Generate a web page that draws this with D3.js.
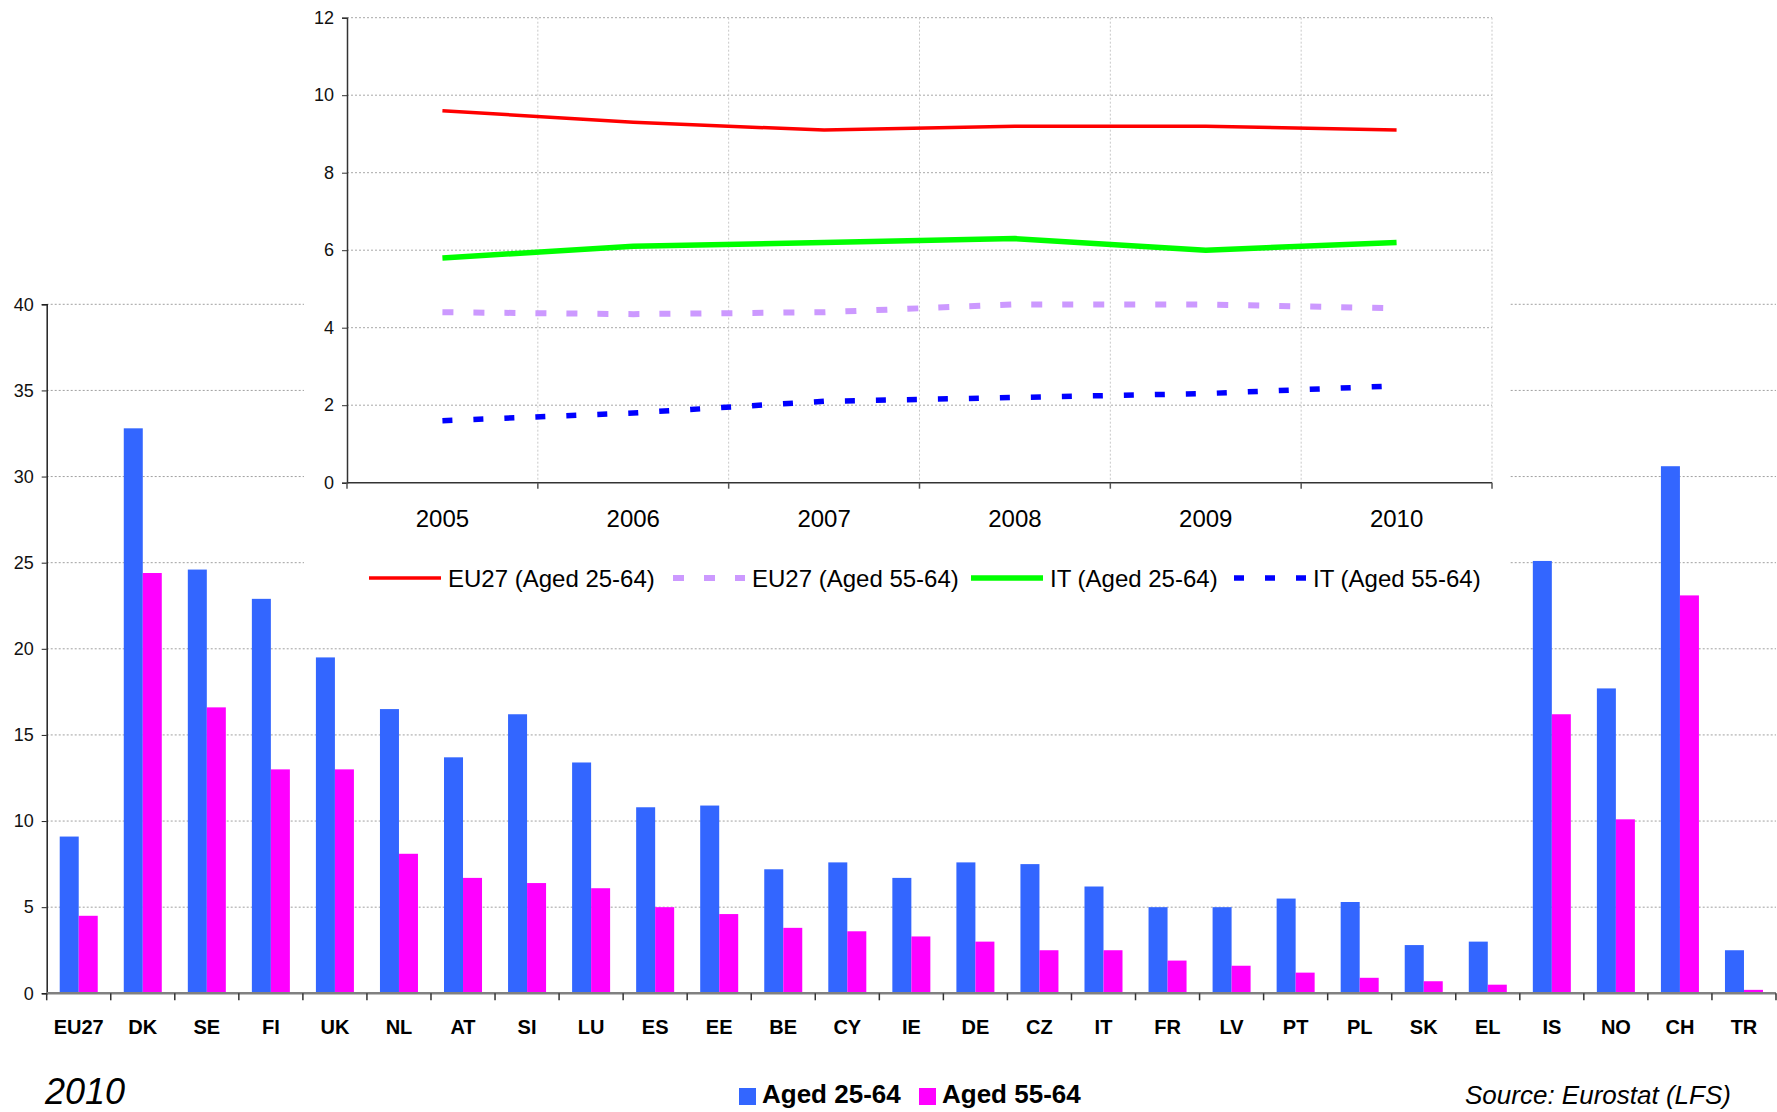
<!DOCTYPE html>
<html>
<head>
<meta charset="utf-8">
<script src="https://cdn.jsdelivr.net/npm/d3@7"></script>
<style>
  body { margin: 0; background: #fff; }
  svg { display: block; font-family: "Liberation Sans", Arial, sans-serif; }
</style>
</head>
<body>
<svg id="chart" width="1777" height="1112"></svg>
<script>
// Lifelong learning participation, 2010 (% of population)
const countries = ["EU27","DK","SE","FI","UK","NL","AT","SI","LU","ES","EE","BE","CY","IE","DE","CZ","IT","FR","LV","PT","PL","SK","EL","IS","NO","CH","TR"];
const aged2564 = [9.1,32.8,24.6,22.9,19.5,16.5,13.7,16.2,13.4,10.8,10.9,7.2,7.6,6.7,7.6,7.5,6.2,5.0,5.0,5.5,5.3,2.8,3.0,25.1,17.7,30.6,2.5];
const aged5564 = [4.5,24.4,16.6,13.0,13.0,8.1,6.7,6.4,6.1,5.0,4.6,3.8,3.6,3.3,3.0,2.5,2.5,1.9,1.6,1.2,0.9,0.7,0.5,16.2,10.1,23.1,0.2];
const barTicks = [0,5,10,15,20,25,30,35,40];
const barSeries = ["Aged 25-64","Aged 55-64"];
const barColors = ["#3366FF","#FF00FF"];

// Trend 2005-2010, EU27 and Italy
const years = ["2005","2006","2007","2008","2009","2010"];
const eu2564 = [9.6,9.3,9.1,9.2,9.2,9.1];
const eu5564 = [4.4,4.35,4.4,4.6,4.6,4.5];
const it2564 = [5.8,6.1,6.2,6.3,6.0,6.2];
const it5564 = [1.6,1.8,2.1,2.2,2.3,2.5];
const insetTicks = [0,2,4,6,8,10,12];
const lineNames = ["EU27 (Aged 25-64)","EU27 (Aged 55-64)","IT (Aged 25-64)","IT (Aged 55-64)"];

const svg = d3.select("#chart");

// ---------- main bar chart ----------
const bx = d3.scaleBand().domain(countries).range([46.7, 1776]).paddingInner(0).paddingOuter(0);
const bsub = d3.scaleBand().domain([0,1]).range([0, bx.bandwidth()]).paddingInner(0).paddingOuter(0.685);
const by = d3.scaleLinear().domain([0,40]).range([993.3, 304.3]);

const grid = svg.append("g");
grid.selectAll("line").data(barTicks.filter(t => t > 0)).join("line")
  .attr("x1", 46.7).attr("x2", 1776)
  .attr("y1", d => by(d)).attr("y2", d => by(d))
  .attr("stroke", "#a0a0a0").attr("stroke-width", 1).attr("stroke-dasharray", "2,2");

// white panel holding the trend inset
svg.append("rect").attr("x", 304).attr("y", 0).attr("width", 1206).attr("height", 615).attr("fill", "#fff");

const rows = countries.map((c, i) => ({ c, v: [aged2564[i], aged5564[i]] }));
const groups = svg.append("g").selectAll("g").data(rows).join("g")
  .attr("transform", d => `translate(${bx(d.c)},0)`);
groups.selectAll("rect").data(d => d.v.map((v, k) => ({ v, k }))).join("rect")
  .attr("x", d => bsub(d.k))
  .attr("width", bsub.bandwidth())
  .attr("y", d => by(d.v))
  .attr("height", d => by(0) - by(d.v))
  .attr("fill", d => barColors[d.k]);

// y axis
const yAxis = svg.append("g").attr("transform", "translate(46.7,0)")
  .call(d3.axisLeft(by).tickValues(barTicks).tickSize(5).tickPadding(8));
yAxis.select(".domain").attr("stroke", "#222").attr("stroke-width", 1.5);
yAxis.selectAll(".tick line").attr("stroke", "#222");
yAxis.selectAll(".tick text").attr("font-size", 18).attr("fill", "#111")
  .attr("font-family", "'Liberation Sans', Arial, sans-serif");

// x axis: boundary ticks, bold country labels
const xAxisG = svg.append("g").attr("transform", `translate(0,${by(0)})`);
xAxisG.append("line").attr("x1", 46.7).attr("x2", 1776).attr("stroke", "#808080").attr("stroke-width", 2.5);
const bounds = countries.map(c => bx(c)).concat([bx.range()[1]]);
xAxisG.selectAll("line.b").data(bounds).join("line").attr("class", "b")
  .attr("x1", d => d).attr("x2", d => d).attr("y1", 0).attr("y2", 7)
  .attr("stroke", "#333").attr("stroke-width", 1.5);
xAxisG.selectAll("text").data(countries).join("text")
  .attr("x", d => bx(d) + bx.bandwidth() / 2).attr("y", 41)
  .attr("text-anchor", "middle").attr("font-size", 20).attr("font-weight", "bold").attr("fill", "#000")
  .text(d => d);

// ---------- inset trend chart ----------
const ix = d3.scaleBand().domain(years).range([347, 1492]);
const iy = d3.scaleLinear().domain([0,12]).range([482.7, 17.7]);
const ibounds = years.map(y => ix(y)).concat([ix.range()[1]]);

const ig = svg.append("g");
ig.selectAll("line.h").data(insetTicks.filter(t => t > 0)).join("line").attr("class", "h")
  .attr("x1", 347).attr("x2", 1492).attr("y1", d => iy(d)).attr("y2", d => iy(d))
  .attr("stroke", "#a8a8a8").attr("stroke-dasharray", "2,2");
ig.selectAll("line.v").data(ibounds.slice(1)).join("line").attr("class", "v")
  .attr("x1", d => d).attr("x2", d => d).attr("y1", iy(12)).attr("y2", iy(0))
  .attr("stroke", "#c8c8c8").attr("stroke-dasharray", "2,2");

const iyAxis = ig.append("g").attr("transform", "translate(347,0)")
  .call(d3.axisLeft(iy).tickValues(insetTicks).tickSize(5).tickPadding(8));
iyAxis.select(".domain").attr("stroke", "#333").attr("stroke-width", 1.5);
iyAxis.selectAll(".tick line").attr("stroke", "#333");
iyAxis.selectAll(".tick text").attr("font-size", 18).attr("fill", "#111")
  .attr("font-family", "'Liberation Sans', Arial, sans-serif");

const ixAxis = ig.append("g").attr("transform", `translate(0,${iy(0)})`);
ixAxis.append("line").attr("x1", 347).attr("x2", 1492).attr("stroke", "#333").attr("stroke-width", 1.5);
ixAxis.selectAll("line.t").data(ibounds).join("line").attr("class", "t")
  .attr("x1", d => d).attr("x2", d => d).attr("y1", 0).attr("y2", 6)
  .attr("stroke", "#555").attr("stroke-width", 1.5);
ixAxis.selectAll("text").data(years).join("text")
  .attr("x", d => ix(d) + ix.bandwidth() / 2).attr("y", 44)
  .attr("text-anchor", "middle").attr("font-size", 24).attr("fill", "#000").text(d => d);

const lineStyles = [
  { data: eu2564, color: "#FF0000", width: 3.5, dash: null },
  { data: eu5564, color: "#CC99FF", width: 6, dash: "11,20" },
  { data: it2564, color: "#00FF00", width: 5.5, dash: null },
  { data: it5564, color: "#0000FF", width: 5.5, dash: "10,21" }
];
const lineGen = d3.line().x((d, i) => ix(years[i]) + ix.bandwidth() / 2).y(d => iy(d));
ig.selectAll("path.series").data(lineStyles).join("path").attr("class", "series")
  .attr("d", d => lineGen(d.data))
  .attr("fill", "none").attr("stroke", d => d.color).attr("stroke-width", d => d.width)
  .attr("stroke-dasharray", d => d.dash).attr("stroke-linejoin", "round");

// inset legend
const legX = [369, 673, 971, 1234];
const leg = ig.selectAll("g.leg").data(lineStyles).join("g").attr("class", "leg")
  .attr("transform", (d, i) => `translate(${legX[i]},578)`);
leg.append("line").attr("x1", 0).attr("x2", 72)
  .attr("stroke", d => d.color).attr("stroke-width", d => d.width).attr("stroke-dasharray", d => d.dash);
leg.append("text").attr("x", 79).attr("y", 8.5).attr("font-size", 24).attr("fill", "#000")
  .text((d, i) => lineNames[i]);

// ---------- titles and bar legend ----------
svg.append("text").attr("x", 45).attr("y", 1104).attr("font-size", 36).attr("font-style", "italic")
  .attr("fill", "#000").text("2010");
svg.append("text").attr("x", 1465).attr("y", 1104).attr("font-size", 26).attr("font-style", "italic")
  .attr("fill", "#000").text("Source: Eurostat (LFS)");

const bLegX = [739, 919];
const bl = svg.selectAll("g.bleg").data(barSeries).join("g").attr("class", "bleg")
  .attr("transform", (d, i) => `translate(${bLegX[i]},1088)`);
bl.append("rect").attr("width", 17).attr("height", 17).attr("fill", (d, i) => barColors[i]);
bl.append("text").attr("x", 23).attr("y", 15).attr("font-size", 26).attr("font-weight", "bold")
  .attr("fill", "#000").text(d => d);
</script>
</body>
</html>
